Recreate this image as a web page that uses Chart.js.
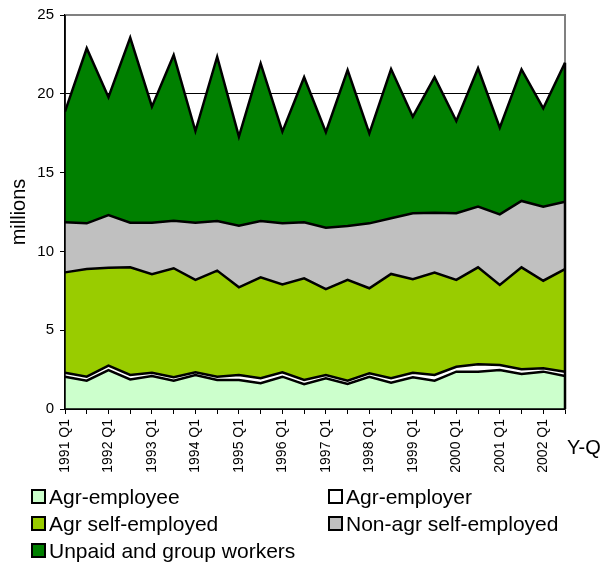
<!DOCTYPE html>
<html>
<head>
<meta charset="utf-8">
<script src="https://cdn.jsdelivr.net/npm/chart.js@4/dist/chart.umd.min.js"></script>
<style>
  body { margin: 0; background: #fff; font-family: Arial, "Liberation Sans", sans-serif; }
  #wrap { position: relative; width: 613px; height: 584px; }
  #yq { position: absolute; left: 567px; top: 436px; font-size: 20px; color: #000; }
  #legend { position: absolute; left: 31px; top: 483px; display: grid; grid-template-columns: 297px 270px; grid-auto-rows: 27px; }
  .item { display: flex; align-items: center; font-size: 21px; color: #000; white-space: nowrap; }
  .box { width: 11px; height: 11px; border: 2px solid #000; margin-right: 3px; }
</style>
</head>
<body>
<div id="wrap">
  <canvas id="myChart" width="613" height="584"></canvas>
  <div id="yq">Y-Q</div>
  <div id="legend"></div>
</div>
<script>
const quarters = ['1991 Q1', '1991 Q3', '1992 Q1', '1992 Q3', '1993 Q1', '1993 Q3', '1994 Q1', '1994 Q3',
  '1995 Q1', '1995 Q3', '1996 Q1', '1996 Q3', '1997 Q1', '1997 Q3', '1998 Q1', '1998 Q3',
  '1999 Q1', '1999 Q3', '2000 Q1', '2000 Q3', '2001 Q1', '2001 Q3', '2002 Q1', '2002 Q3'];

// millions, stacked bottom to top
const agrEmployee = [2.05, 1.80, 2.47, 1.88, 2.09, 1.80, 2.16, 1.84, 1.84, 1.63, 2.05, 1.57,
  1.95, 1.59, 2.05, 1.67, 2.01, 1.80, 2.37, 2.37, 2.47, 2.22, 2.37, 2.09];
const agrEmployer = [0.25, 0.25, 0.28, 0.28, 0.21, 0.21, 0.17, 0.21, 0.32, 0.32, 0.28, 0.27,
  0.21, 0.21, 0.21, 0.28, 0.29, 0.36, 0.31, 0.47, 0.32, 0.30, 0.21, 0.28];
const agrSelfEmployed = [6.37, 6.83, 6.22, 6.83, 6.25, 6.92, 5.86, 6.73, 5.56, 6.41, 5.58, 6.45,
  5.45, 6.39, 5.40, 6.62, 5.93, 6.49, 5.51, 6.15, 5.08, 6.47, 5.56, 6.51];
const nonAgrSelfEmployed = [3.18, 2.90, 3.34, 2.83, 3.27, 3.02, 3.63, 3.15, 3.91, 3.57, 3.87, 3.56,
  3.89, 3.42, 4.12, 3.53, 4.19, 3.81, 4.23, 3.85, 4.48, 4.21, 4.70, 4.27];
const unpaidGroup = [7.02, 11.11, 7.47, 11.74, 7.36, 10.51, 5.82, 10.42, 5.65, 10.00, 5.82, 9.20,
  6.06, 9.90, 5.71, 9.47, 6.13, 8.59, 5.85, 8.78, 5.50, 8.35, 6.24, 8.82];

const yTicks = [0, 5, 10, 15, 20, 25];

const seriesNames = ['Agr-employee', 'Agr-employer', 'Agr self-employed', 'Non-agr self-employed', 'Unpaid and group workers'];
const seriesColors = ['#CCFFCC', '#FFFFFF', '#99CC00', '#C0C0C0', '#008000'];
const seriesData = [agrEmployee, agrEmployer, agrSelfEmployed, nonAgrSelfEmployed, unpaidGroup];

const ctx = document.getElementById('myChart').getContext('2d');

// grey plot frame, black axis lines and right edge of the stack
const frame = {
  id: 'frame',
  beforeDatasetsDraw(chart) {
    const { ctx, chartArea: a } = chart;
    ctx.save();
    ctx.strokeStyle = '#808080';
    ctx.lineWidth = 2;
    ctx.beginPath();
    ctx.moveTo(a.left, a.top);
    ctx.lineTo(a.right, a.top);
    ctx.lineTo(a.right, a.bottom);
    ctx.stroke();
    ctx.restore();
  },
  afterDatasetsDraw(chart) {
    const { ctx, chartArea: a } = chart;
    const pts = chart.getDatasetMeta(chart.data.datasets.length - 1).data;
    const last = pts[pts.length - 1];
    ctx.save();
    ctx.strokeStyle = '#000';
    ctx.lineWidth = 2.5;
    ctx.beginPath();
    ctx.moveTo(last.x, a.bottom);
    ctx.lineTo(last.x, last.y);
    ctx.stroke();
    ctx.lineWidth = 1.5;
    ctx.beginPath();
    ctx.moveTo(a.left, a.top);
    ctx.lineTo(a.left, a.bottom);
    ctx.lineTo(a.right, a.bottom);
    ctx.stroke();
    ctx.restore();
  }
};

const chart = new Chart(ctx, {
  type: 'line',
  data: {
    labels: quarters,
    datasets: seriesData.map((values, i) => ({
      label: seriesNames[i],
      data: values,
      backgroundColor: seriesColors[i],
      borderColor: '#000',
      borderWidth: 2.5,
      fill: i === 0 ? 'origin' : '-1',
      pointRadius: 0,
      tension: 0
    }))
  },
  options: {
    responsive: false,
    animation: false,
    devicePixelRatio: 1,
    layout: { padding: { top: 15, right: 48, left: 0, bottom: 0 } },
    plugins: { legend: { display: false }, tooltip: { enabled: false } },
    scales: {
      x: {
        offset: false,
        afterFit: (scale) => { scale.height = 175; },
        grid: { drawOnChartArea: false, color: '#000', tickColor: '#000', tickLength: 5 },
        border: { color: '#000', width: 1.5 },
        ticks: {
          autoSkip: false,
          maxRotation: 90,
          minRotation: 90,
          padding: 5,
          color: '#000',
          font: { family: 'Arial, "Liberation Sans"', size: 14 },
          callback: (value, index) => index % 2 === 0 ? quarters[index] : ''
        }
      },
      y: {
        stacked: true,
        min: 0,
        max: 25,
        afterFit: (scale) => { scale.width = 65; },
        afterBuildTicks: (scale) => { scale.ticks = yTicks.map(v => ({ value: v })); },
        grid: {
          color: (c) => c.tick && c.tick.value === 25 ? '#808080' : '#000',
          tickColor: '#000',
          tickLength: 5,
          lineWidth: 1
        },
        border: { color: '#000', width: 1.5 },
        ticks: {
          padding: 6,
          color: '#000',
          font: { family: 'Arial, "Liberation Sans"', size: 15 }
        },
        title: {
          display: true,
          text: 'millions',
          color: '#000',
          padding: { top: 7, bottom: 0 },
          font: { family: 'Arial, "Liberation Sans"', size: 20 }
        }
      }
    }
  },
  plugins: [frame]
});

// legend in two columns, like the original
const legend = document.getElementById('legend');
chart.data.datasets.forEach((ds) => {
  const item = document.createElement('div');
  item.className = 'item';
  const box = document.createElement('span');
  box.className = 'box';
  box.style.background = ds.backgroundColor;
  item.appendChild(box);
  item.appendChild(document.createTextNode(ds.label));
  legend.appendChild(item);
});
</script>
</body>
</html>
